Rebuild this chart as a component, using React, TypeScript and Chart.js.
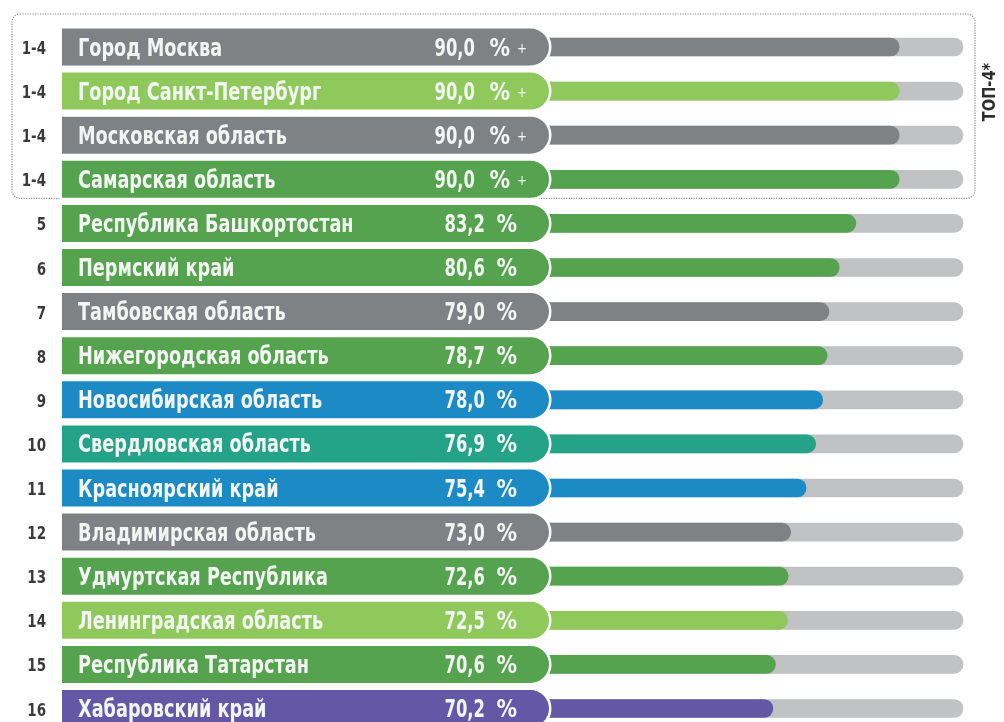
import { useEffect, useRef } from 'react';
import { Chart, registerables } from 'chart.js';

Chart.register(...registerables);

const regions = [
  'Город Москва',
  'Город Санкт-Петербург',
  'Московская область',
  'Самарская область',
  'Республика Башкортостан',
  'Пермский край',
  'Тамбовская область',
  'Нижегородская область',
  'Новосибирская область',
  'Свердловская область',
  'Красноярский край',
  'Владимирская область',
  'Удмуртская Республика',
  'Ленинградская область',
  'Республика Татарстан',
  'Хабаровский край',
];

const values = [90.0, 90.0, 90.0, 90.0, 83.2, 80.6, 79.0, 78.7, 78.0, 76.9, 75.4, 73.0, 72.6, 72.5, 70.6, 70.2];

const ranks = ['1-4', '1-4', '1-4', '1-4', '5', '6', '7', '8', '9', '10', '11', '12', '13', '14', '15', '16'];

const plusMarks = [true, true, true, true, false, false, false, false, false, false, false, false, false, false, false, false];

const colorKeys = [
  'gray', 'lightGreen', 'gray', 'green', 'green', 'green', 'gray', 'green',
  'blue', 'teal', 'blue', 'gray', 'green', 'lightGreen', 'green', 'purple',
];

const scaleMax = 100;
const topGroupLabel = 'ТОП-4*';

const palette: Record<string, string> = {
  gray: '#7f8285',
  lightGreen: '#8fc95c',
  green: '#55a24f',
  blue: '#1b8ac5',
  teal: '#25a389',
  purple: '#6458a6',
};
const trackColor = '#c1c2c4';

const FONT = '"DejaVu Sans Condensed", "DejaVu Sans", sans-serif';

function drawText(
  ctx: CanvasRenderingContext2D,
  text: string,
  x: number,
  y: number,
  align: CanvasTextAlign,
  sx: number,
) {
  ctx.save();
  ctx.translate(x, y);
  ctx.scale(sx, 1);
  ctx.textAlign = align;
  ctx.fillText(text, 0, 0);
  ctx.restore();
}

const overlayPlugin = {
  id: 'overlay',
  afterDatasetsDraw(chart: any) {
    const ctx: CanvasRenderingContext2D = chart.ctx;
    const yScale = chart.scales.y;
    ctx.save();

    // dotted frame around the top-4 group
    const yTop = yScale.getPixelForValue(0) - 33;
    const yBot = yScale.getPixelForValue(3) + 19;
    const fx0 = 12, fx1 = 975, fr = 8;
    ctx.beginPath();
    ctx.moveTo(fx0 + fr, yTop);
    ctx.lineTo(fx1 - fr, yTop);
    ctx.arcTo(fx1, yTop, fx1, yTop + fr, fr);
    ctx.lineTo(fx1, yBot - fr);
    ctx.arcTo(fx1, yBot, fx1 - fr, yBot, fr);
    ctx.lineTo(fx0 + fr, yBot);
    ctx.arcTo(fx0, yBot, fx0, yBot - fr, fr);
    ctx.lineTo(fx0, yTop + fr);
    ctx.arcTo(fx0, yTop, fx0 + fr, yTop, fr);
    ctx.closePath();
    ctx.setLineDash([1.2, 1.3]);
    ctx.lineWidth = 1.2;
    ctx.strokeStyle = '#8c8c8c';
    ctx.stroke();
    ctx.setLineDash([]);

    const h = 37;
    const r = h / 2;
    const left = 62;
    const right = 549;
    ctx.textBaseline = 'alphabetic';

    regions.forEach((name, i) => {
      const cy = yScale.getPixelForValue(i);
      ctx.beginPath();
      ctx.moveTo(left, cy - r);
      ctx.lineTo(right - r, cy - r);
      ctx.arc(right - r, cy, r, -Math.PI / 2, Math.PI / 2);
      ctx.lineTo(left, cy + r);
      ctx.closePath();
      ctx.lineWidth = 5;
      ctx.strokeStyle = '#ffffff';
      ctx.stroke();
      ctx.fillStyle = palette[colorKeys[i]];
      ctx.fill();

      // rank
      ctx.fillStyle = '#3a3a3a';
      ctx.font = `bold 17px ${FONT}`;
      drawText(ctx, ranks[i], 46, cy + 7, 'right', 0.88);

      // region name
      ctx.fillStyle = '#f3f5f3';
      ctx.font = `bold 24px ${FONT}`;
      drawText(ctx, name, 78, cy + 8.5, 'left', 0.82);

      // value
      const txt = values[i].toFixed(1).replace('.', ',');
      if (plusMarks[i]) {
        drawText(ctx, txt, 475, cy + 8.5, 'right', 0.76);
        drawText(ctx, '%', 510, cy + 8.5, 'right', 0.95);
        ctx.font = `14px ${FONT}`;
        drawText(ctx, '+', 517, cy + 6, 'left', 0.95);
      } else {
        drawText(ctx, txt, 485, cy + 8.5, 'right', 0.76);
        drawText(ctx, '%', 517, cy + 8.5, 'right', 0.95);
      }
    });

    // vertical group label
    ctx.translate(990, 92);
    ctx.rotate(-Math.PI / 2);
    ctx.scale(0.9, 1);
    ctx.fillStyle = '#2e2e2e';
    ctx.font = `bold 18px ${FONT}`;
    ctx.textAlign = 'center';
    ctx.textBaseline = 'middle';
    ctx.fillText(topGroupLabel, 0, 0);

    ctx.restore();
  },
};

export default function App() {
  const ref = useRef<HTMLCanvasElement>(null);
  useEffect(() => {
    document.body.style.margin = '0';
    const chart = new Chart(ref.current as HTMLCanvasElement, {
      type: 'bar',
      data: {
        labels: regions,
        datasets: [
          {
            data: values,
            backgroundColor: colorKeys.map((k) => palette[k]),
            barThickness: 18,
            borderRadius: 9,
            grouped: false,
            clip: false as any,
          } as any,
          {
            data: regions.map(() => scaleMax),
            backgroundColor: trackColor,
            barThickness: 18,
            borderRadius: 9,
            grouped: false,
            clip: false as any,
          } as any,
        ],
      },
      options: {
        indexAxis: 'y',
        responsive: false,
        animation: false,
        layout: { padding: { left: 325, right: 41, top: 47, bottom: 13.5 } },
        scales: {
          x: { min: 0, max: scaleMax, display: false },
          y: { display: false, offset: false },
        },
        plugins: { legend: { display: false }, tooltip: { enabled: false } },
      },
      plugins: [overlayPlugin],
    });
    return () => chart.destroy();
  }, []);
  return <canvas ref={ref} width={1004} height={722} style={{ display: 'block' }} />;
}
